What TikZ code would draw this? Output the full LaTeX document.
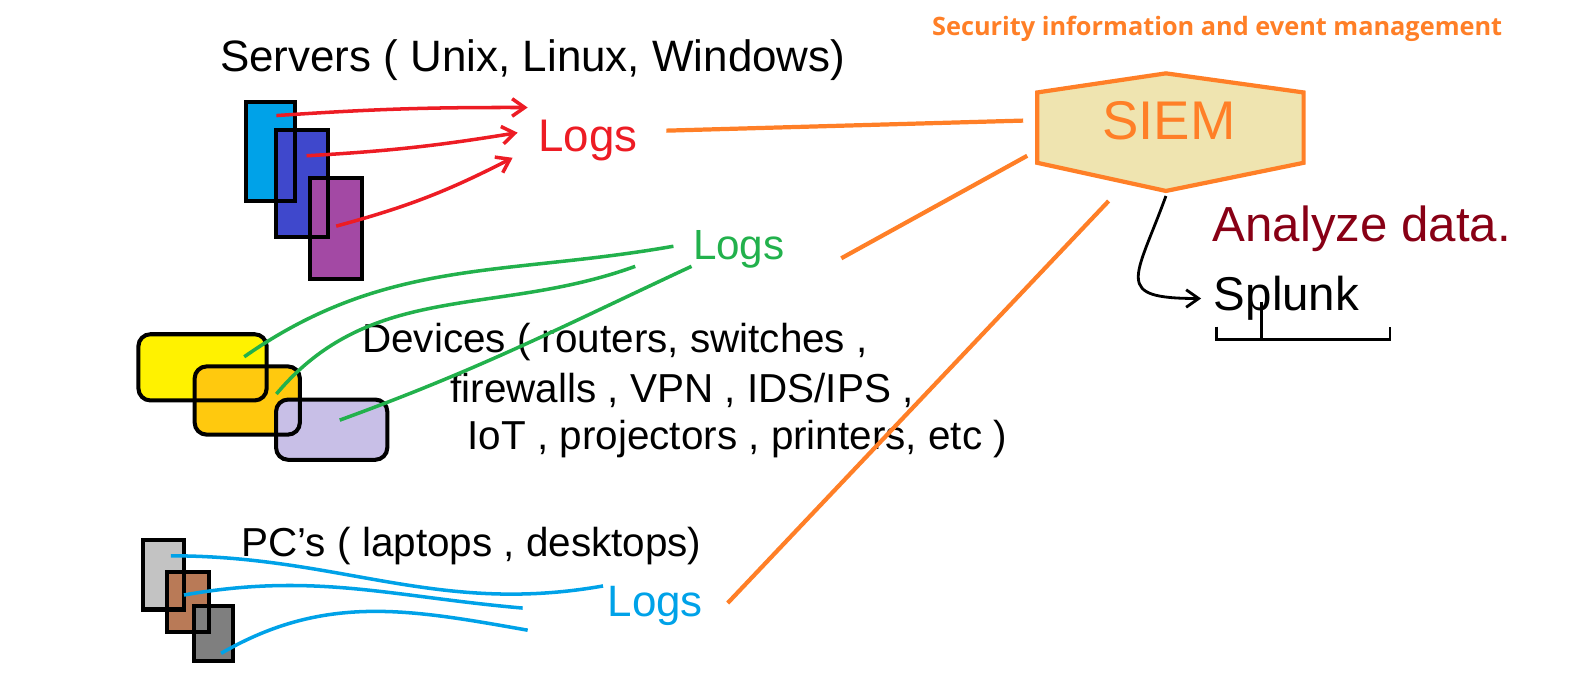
\documentclass[tikz,border=0pt]{standalone}
\usepackage{fontspec}
\setmainfont{Liberation Sans}
\newfontfamily\titlefont{Open Sans}
\usetikzlibrary{arrows.meta, calc}

\definecolor{siemorange}{RGB}{255,127,39}
\definecolor{siemfill}{RGB}{239,228,176}
\definecolor{logred}{RGB}{237,28,36}
\definecolor{loggreen}{RGB}{34,177,76}
\definecolor{logblue}{RGB}{0,162,232}
\definecolor{darkred}{RGB}{136,0,21}
\definecolor{srvcyan}{RGB}{0,162,232}
\definecolor{srvblue}{RGB}{63,72,204}
\definecolor{srvpurple}{RGB}{163,73,164}
\definecolor{devyellow}{RGB}{255,242,0}
\definecolor{devgold}{RGB}{255,201,14}
\definecolor{devlavender}{RGB}{200,191,231}
\definecolor{pcgray}{RGB}{195,195,195}
\definecolor{pcbrown}{RGB}{185,122,87}
\definecolor{pcdark}{RGB}{127,127,127}

\begin{document}
\begin{tikzpicture}[x=0.0201cm, y=0.0201cm,
                    hand/.style={inner sep=0pt, font=\fontsize{23}{27}\selectfont},
                    logs/.style={inner sep=0pt, font=\fontsize{26}{30}\selectfont},
                    srv/.style={rectangle, inner sep=0pt},
                    dev/.style={rectangle, rounded corners=0.24cm, inner sep=0pt},
                    outline/.style={draw=black, line width=2.3pt},
                    log_red/.style={->, >={Straight Barb[length=2.5mm, width=3.5mm]}, line width=2pt, logred},
                    log_green/.style={line width=2pt, loggreen},
                    log_blue/.style={line width=2pt, logblue},
                    siem_link/.style={line width=2.4pt, siemorange},
                    to_splunk/.style={->, >={Straight Barb[length=2.5mm, width=3.5mm]}, line width=1.6pt, black}]

    \useasboundingbox (0,0) rectangle (1568,685);

    \node[font=\titlefont\bfseries\fontsize{14.4}{17}\selectfont, text=siemorange] (title) at (1211,656) {Security information and event management};

    \draw[line width=2.4pt, draw=siemorange, fill=siemfill, line join=miter]
        (1032,593) -- (1160,612) -- (1297,593) -- (1297,523) -- (1160,495) -- (1032,523) -- cycle;
    \node[inner sep=0pt, font=\fontsize{31}{34}\selectfont, text=siemorange] (siem) at (1163,565) {SIEM};

    \node[hand, text=darkred, font=\fontsize{28}{30}\selectfont] (analyze) at (1355,457) {Analyze data.};
    \node[hand, font=\fontsize{27}{30}\selectfont] (splunk) at (1280,388) {Splunk};

    \node[hand, font=\fontsize{25}{28}\selectfont] (servers) at (530,625) {Servers ( Unix, Linux, Windows)};
    \node[hand, anchor=west] (dev1) at (360,345) {Devices ( routers, switches ,};
    \node[hand, anchor=west] (dev2) at (448,297) {firewalls , VPN , IDS/IPS ,};
    \node[hand, anchor=west] (dev3) at (465,248) {IoT , projectors , printers, etc )};
    \node[hand, anchor=west] (pcs) at (240,142) {PC's ( laptops , desktops)};

    \node[logs, text=logred] (redlogs) at (585,545) {Logs};
    \node[logs, text=loggreen, font=\fontsize{24}{28}\selectfont] (greenlogs) at (735,437) {Logs};
    \node[logs, text=logblue, font=\fontsize{25}{28}\selectfont] (bluelogs) at (652,82) {Logs};

    \node[srv, fill=srvcyan, minimum width=0.97cm, minimum height=1.97cm] (r1) at (269,534) {};
    \node[srv, fill=srvblue, minimum width=1.03cm, minimum height=2.11cm] (r2) at (300.5,502.5) {};
    \node[srv, fill=srvpurple, minimum width=1.03cm, minimum height=2.01cm] (r3) at (334.5,458) {};
    \draw[outline] (r1.south west) rectangle (r1.north east);
    \draw[outline] (r2.south west) rectangle (r2.north east);
    \draw[outline] (r3.south west) rectangle (r3.north east);

    \node[dev, fill=devyellow, minimum width=2.55cm, minimum height=1.31cm] (y1) at (201.5,319.5) {};
    \node[dev, fill=devgold, minimum width=2.09cm, minimum height=1.35cm] (y2) at (246,286.5) {};
    \node[dev, fill=devlavender, minimum width=2.21cm, minimum height=1.19cm] (y3) at (330,257.5) {};
    \draw[outline, rounded corners=0.24cm] (y1.south west) rectangle (y1.north east);
    \draw[outline, rounded corners=0.24cm] (y2.south west) rectangle (y2.north east);
    \draw[outline, rounded corners=0.24cm] (y3.south west) rectangle (y3.north east);

    \node[srv, fill=pcgray, minimum width=0.80cm, minimum height=1.37cm] (p1) at (163,113) {};
    \node[srv, fill=pcbrown, minimum width=0.84cm, minimum height=1.17cm] (p2) at (187,86) {};
    \node[srv, fill=pcdark, minimum width=0.78cm, minimum height=1.09cm] (p3) at (212.5,55) {};
    \draw[outline] (p1.south west) rectangle (p1.north east);
    \draw[outline] (p2.south west) rectangle (p2.north east);
    \draw[outline] (p3.south west) rectangle (p3.north east);

    \draw[log_red] ([shift={(6,36)}]r1.center) to[bend left=2] ([shift={(-60,33)}]redlogs.center);
    \draw[log_red] ([shift={(4.5,27.5)}]r2.center) to[bend right=3] ([shift={(-70,8)}]redlogs.center);
    \draw[log_red] ([shift={(0,2)}]r3.center) to[bend right=6] ([shift={(-75,-17)}]redlogs.center);

    \draw[log_green] ([shift={(41.5,10.5)}]y1.center) to[out=35, in=190] ([shift={(-65,3)}]greenlogs.center);
    \draw[log_green] ([shift={(29,6.5)}]y2.center) to[out=50, in=200] ([shift={(-103,-17)}]greenlogs.center);
    \draw[log_green] ([shift={(8,9.5)}]y3.center) to[out=20, in=205] ([shift={(-47,-17)}]greenlogs.center);

    \draw[log_blue] ([shift={(-52,20)}]bluelogs.center) to[out=190, in=0] ([shift={(7,19)}]p1.center);
    \draw[log_blue] ([shift={(-132,-2)}]bluelogs.center) to[out=175, in=10] ([shift={(-4,7)}]p2.center);
    \draw[log_blue] ([shift={(-127,-24)}]bluelogs.center) to[out=170, in=30] ([shift={(7.5,-20)}]p3.center);

    \draw[siem_link] ([shift={(78,10)}]redlogs.center) -- ([shift={(-145,0)}]siem.center);
    \draw[siem_link] ([shift={(102,-9)}]greenlogs.center) -- ([shift={(-141,-35)}]siem.center);
    \draw[siem_link] ([shift={(72,3)}]bluelogs.center) -- ([shift={(-60,-80)}]siem.center);

    \draw[to_splunk] ([shift={(-3,-75)}]siem.center) to[out=-110, in=180, looseness=2.1] ([shift={(-85,0)}]splunk.center);
    \draw[line width=1.5pt] ([shift={(-70,-28)}]splunk.center) -- ++(0,-13) -- ++(173,0) -- ++(0,13);
    \draw[line width=1.5pt] ([shift={(-25,-3)}]splunk.center) -- ++(0,-38);
\end{tikzpicture}
\end{document}
